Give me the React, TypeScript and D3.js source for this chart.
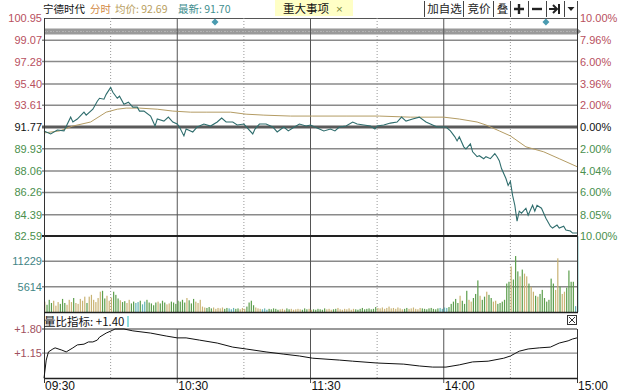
import React from 'react';
import * as d3 from 'd3';

const W = 640;
const H = 392;

// ---------- data ----------
const priceTicks = [100.95, 99.07, 97.28, 95.4, 93.61, 91.77, 89.93, 88.06, 86.26, 84.39, 82.59];
const pctTicks = ['10.00%', '7.96%', '6.00%', '3.96%', '2.00%', '0.00%', '2.00%', '4.04%', '6.00%', '8.05%', '10.00%'];
const volTicks = [11229, 5614];
const ratioTicks = [1.8, 1.15];
const timeLabels = ['09:30', '10:30', '11:30', '14:00', '15:00'];
const timeLabelMin = [0, 60, 120, 180, 240];
const solidMin = [60, 120, 180];
const dottedMin = [30, 90, 150, 210];
const eventMin = [77, 226];

const priceMin = [0, 3, 6, 9, 12, 13, 15, 18, 19, 22, 24, 25, 27, 28, 30, 31, 33, 34, 36, 38, 40, 42, 43, 45, 48, 49, 50, 51, 54, 56, 58, 60, 61, 63, 64, 67, 69, 70, 72, 75, 78, 80, 82, 85, 87, 90, 94, 95, 97, 100, 103, 105, 108, 110, 112, 115, 118, 120, 123, 126, 129, 131, 133, 136, 139, 141, 144, 147, 149, 150, 153, 156, 159, 161, 163, 166, 169, 172, 175, 177, 179, 181, 183, 185, 186, 187, 189, 190, 192, 193, 195, 196, 198, 199, 201, 203, 204, 205, 206, 208, 209, 210, 211, 212, 213, 214, 215, 217, 218, 220, 221, 222, 224, 226, 228, 229, 231, 232, 234, 235, 237, 238, 240];
const priceVal = [91.44, 91.19, 91.52, 91.44, 92.6, 92.19, 92.44, 93.02, 92.77, 93.27, 93.94, 94.19, 94.11, 94.52, 95.11, 94.69, 94.19, 94.36, 93.69, 93.86, 93.44, 93.44, 93.11, 93.11, 92.69, 92.27, 91.85, 92.44, 92.27, 92.6, 92.19, 92.02, 91.77, 91.02, 91.6, 91.35, 91.77, 91.85, 92.02, 91.85, 92.19, 92.52, 92.19, 92.19, 91.94, 92.02, 91.19, 91.6, 92.02, 92.02, 91.77, 91.35, 91.77, 91.44, 91.69, 92.02, 91.85, 91.94, 91.69, 91.44, 91.6, 91.44, 91.77, 91.85, 92.19, 92.02, 91.94, 91.85, 91.6, 91.85, 91.94, 92.1, 92.19, 92.6, 92.27, 92.44, 92.6, 92.19, 91.94, 91.77, 91.77, 91.77, 91.44, 90.94, 90.6, 90.94, 90.1, 89.93, 90.35, 89.68, 89.27, 89.35, 89.1, 89.27, 89.1, 89.52, 89.27, 88.93, 88.27, 87.43, 86.85, 87.18, 86.01, 85.18, 83.84, 84.68, 84.51, 84.93, 84.34, 85.18, 84.68, 85.18, 84.93, 84.09, 83.42, 83.26, 83.51, 83.26, 83.42, 83.09, 83.01, 82.84, 82.84];

const avgMin = [0, 7, 13, 21, 28, 33, 37, 43, 51, 58, 66, 73, 84, 91, 99, 111, 121, 136, 151, 165, 180, 187, 195, 199, 205, 210, 217, 225, 232, 240];
const avgVal = [91.27, 91.44, 91.85, 92.19, 93.02, 93.27, 93.36, 93.36, 93.27, 93.11, 93.02, 93.02, 93.02, 92.85, 92.77, 92.69, 92.69, 92.69, 92.69, 92.6, 92.6, 92.44, 92.19, 91.94, 91.44, 91.02, 90.1, 89.68, 89.1, 88.43];

const volume = [
  2300, 1600, 2700, 2000, 2500, 1400, 2200, 1800, 2900, 2000,
  1600, 2700, 2200, 3100, 2000, 1800, 2900, 2500, 3400, 2000,
  3400, 3800, 2700, 2200, 3100, 4500, 4700, 3000, 3600, 2500,
  3200, 4500, 3800, 3000, 2600, 2200, 2400, 2000, 2700, 1900,
  2300, 2000, 2200, 2500, 1700, 2300, 2700, 2100, 1900, 1500,
  2100, 2300, 1900, 2500, 2100, 1700, 1900, 2300, 2100, 1800,
  2500, 2300, 2700, 2100, 3100, 2600, 1900, 2900, 2300, 2000,
  2700, 1200, 1000, 900, 1100, 800, 1000, 700, 900, 800,
  1000, 700, 900, 800, 600, 900, 700, 800, 600, 900,
  700, 1200, 2100, 2500, 1500, 1000, 800, 700, 600, 800,
  500, 700, 600, 800, 700, 500, 600, 700, 500, 800,
  600, 700, 500, 600, 700, 600, 500, 800, 600, 700,
  500, 600, 500, 700, 600, 500, 800, 600, 700, 500,
  600, 700, 900, 600, 500, 700, 600, 800, 500, 700,
  600, 500, 700, 900, 600, 700, 800, 600, 700, 1100,
  900, 800, 1000, 700, 900, 1200, 800, 900, 700, 1000,
  800, 600, 700, 900, 700, 800, 1000, 700, 600, 900,
  800, 700, 600, 800, 900, 700, 600, 800, 900, 700,
  1000, 900, 1100, 1800, 2300, 2900, 2000, 3600, 2500, 1800,
  4700, 2700, 2300, 3100, 4000, 7000, 3600, 2700, 3400, 4500,
  3800, 3100, 2300, 2500, 1800, 2000, 2300, 2700, 6300, 6700,
  10100, 7200, 12400, 9000, 7900, 9400, 8500, 7900, 6300, 5600,
  4500, 3600, 3400, 4000, 4900, 3100, 2300, 2700, 7400, 6300,
  4900, 11900, 5600, 4000, 4500, 5400, 9200, 6700, 6700, 1300,
  16800,
];

const ratioMin = [0, 1, 2, 4, 5, 8, 10, 13, 15, 18, 20, 22, 24, 25, 28, 31, 32, 36, 40, 48, 55, 60, 64, 70, 78, 85, 91, 100, 108, 115, 121, 133, 139, 150, 162, 169, 175, 181, 187, 193, 200, 207, 210, 214, 218, 223, 228, 232, 236, 238, 240];
const ratioVal = [0.47, 0.96, 1.18, 1.26, 1.29, 1.23, 1.18, 1.29, 1.37, 1.39, 1.45, 1.45, 1.5, 1.58, 1.69, 1.77, 1.8, 1.8, 1.75, 1.69, 1.61, 1.56, 1.56, 1.5, 1.42, 1.31, 1.26, 1.18, 1.12, 1.07, 1.01, 0.96, 0.93, 0.88, 0.85, 0.8, 0.77, 0.77, 0.83, 0.91, 0.93, 1.01, 1.07, 1.2, 1.26, 1.29, 1.31, 1.42, 1.48, 1.53, 1.56];

// ---------- layout ----------
const L = 44;
const R = 577;
const FONT = '"Liberation Sans", Arial, "Noto Sans CJK SC", sans-serif';
const CJK = '"Noto Sans CJK SC", "Liberation Sans", sans-serif';
const RED = '#b8505e';
const GREEN = '#4a8f4c';
const GRID = '#8a8a8a';

export default function App() {
  const x = d3.scaleLinear().domain([0, 240]).range([L, R]);
  const yP = d3.scaleLinear().domain([82.59, 100.95]).range([236, 18]);
  const yV = d3.scaleLinear().domain([0, 16843]).range([312, 236]);
  const yR = d3.scaleLinear().domain([0.475, 1.8]).range([378, 329]);

  const priceAt = d3.scaleLinear().domain(priceMin).range(priceVal);

  const priceLine = d3.line<number>().x((_, i) => x(priceMin[i])).y((d) => yP(d))(priceVal) || '';
  const avgLine = d3.line<number>().x((_, i) => x(avgMin[i])).y((d) => yP(d))(avgVal) || '';
  const ratioLine = d3.line<number>().x((_, i) => x(ratioMin[i])).y((d) => yR(d))(ratioVal) || '';

  const volColor = (i: number) => {
    if (i === 0) return '#c8b274';
    const d = priceAt(i) - priceAt(i - 1);
    if (Math.abs(d) < 0.005) return '#62b4b4';
    return d > 0 ? '#c9b373' : '#5c9e4c';
  };

  const tickColor = (i: number) => (i < 5 ? RED : i === 5 ? '#111' : GREEN);

  const buttons = [
    { x0: 424, x1: 463, label: '加自选' },
    { x0: 463, x1: 493, label: '竞价' },
    { x0: 493, x1: 510, label: '叠' },
    { x0: 510, x1: 528, label: '' },
    { x0: 528, x1: 546, label: '' },
    { x0: 546, x1: 564, label: '' },
    { x0: 564, x1: 577, label: '' },
  ];

  return (
    <svg width={W} height={H} style={{ position: 'absolute', left: 0, top: 0, background: '#fff' }} fontFamily={FONT}>
      <rect x={0} y={0} width={W} height={H} fill="#fff" />

      {/* header */}
      <text x={43} y={13} fontSize={10.5} fontFamily={CJK} fill="#111">宁德时代</text>
      <text x={90} y={13} fontSize={10.5} fontFamily={CJK} fill="#d28a44">分时</text>
      <text x={115} y={13} fontSize={10.5} fontFamily={CJK} fill="#b9a062">均价: 92.69</text>
      <text x={178} y={13} fontSize={10.5} fontFamily={CJK} fill="#3f8f8f">最新: 91.70</text>
      <rect x={275} y={0} width={78} height={16} fill="#ffffc6" />
      <text x={283} y={12.5} fontSize={11.5} fontFamily={CJK} fill="#111">重大事项</text>
      <text x={336} y={12.5} fontSize={11.5} fill="#7a8a40">×</text>
      {buttons.map((b, i) => (
        <g key={i}>
          <line x1={b.x0 + 0.5} x2={b.x0 + 0.5} y1={1} y2={17} stroke="#444" />
          {b.label && (
            <text x={(b.x0 + b.x1) / 2 + 1} y={13} fontSize={11.5} fontFamily={CJK} fill="#222" textAnchor="middle">{b.label}</text>
          )}
        </g>
      ))}
      <line x1={R + 0.5} x2={R + 0.5} y1={1} y2={18} stroke="#444" />
      <path d="M519,4 V14 M514,9 H524" stroke="#222" strokeWidth={2.4} />
      <path d="M532,9 H542" stroke="#222" strokeWidth={2.4} />
      <path d="M549,9 H556 M553,5 L557,9 L553,13" stroke="#222" strokeWidth={2} fill="none" />
      <path d="M559,4 V14" stroke="#222" strokeWidth={2} />
      <path d="M567.5,7 H574.5 L571,11 Z" fill="#222" />

      {/* top border */}
      <line x1={L} x2={R} y1={18.5} y2={18.5} stroke="#555" />

      {/* event diamonds */}
      {eventMin.map((m, i) => (
        <path key={i} d={`M${x(m)},${18.5} l3.5,3.5 l-3.5,3.5 l-3.5,-3.5 Z`} fill="#4a9bb0" />
      ))}

      {/* gray slider band */}
      <rect x={L} y={28.5} width={R - L} height={6} fill="#9a9a9a" />
      <line x1={L} x2={R} y1={31.5} y2={31.5} stroke="#b4b4b4" strokeDasharray="2,1,1,2" />
      <path d={`M${R},28 l4,3.5 l-4,3.5 Z`} fill="#888" />

      {/* price gridlines */}
      {priceTicks.map((t, i) =>
        i === 0 || i === 5 || i === 10 ? null : (
          <line key={i} x1={L - 2} x2={R} y1={yP(t)} y2={yP(t)} stroke={GRID} strokeWidth={1.5} />
        )
      )}

      {/* volume gridlines */}
      {volTicks.map((t, i) => (
        <line key={i} x1={L - 2} x2={R} y1={yV(t)} y2={yV(t)} stroke={GRID} strokeWidth={1.5} />
      ))}

      {/* ratio gridlines */}
      {ratioTicks.map((t, i) => (
        <line key={i} x1={L - 2} x2={R} y1={yR(t)} y2={yR(t)} stroke={i === 0 ? '#777' : GRID} strokeWidth={1.3} />
      ))}

      {/* verticals */}
      {solidMin.map((m, i) => (
        <g key={i}>
          <line x1={x(m)} x2={x(m)} y1={18} y2={313} stroke="#555" />
          <line x1={x(m)} x2={x(m)} y1={329} y2={383} stroke="#555" />
        </g>
      ))}
      {dottedMin.map((m, i) => (
        <g key={i}>
          <line x1={x(m)} x2={x(m)} y1={18} y2={313} stroke="#999" strokeDasharray="1,2" />
          <line x1={x(m)} x2={x(m)} y1={329} y2={378} stroke="#999" strokeDasharray="1,2" />
        </g>
      ))}

      {/* volume bars */}
      {volume.map((v, i) => (
        <rect key={i} x={x(i) + 0.2} y={yV(v)} width={1.2} height={312 - yV(v)} fill={volColor(i)} />
      ))}

      {/* zero line and limit line */}
      <line x1={L - 2} x2={R} y1={yP(91.77)} y2={yP(91.77)} stroke="#5a5a5a" strokeWidth={3} />
      <line x1={L - 2} x2={R} y1={yP(82.59)} y2={yP(82.59)} stroke="#222" strokeWidth={2} />

      {/* avg & price */}
      <path d={avgLine} fill="none" stroke="#b49c64" strokeWidth={1} />
      <path d={priceLine} fill="none" stroke="#2f6d6d" strokeWidth={1.1} />

      {/* borders */}
      <line x1={L + 0.5} x2={L + 0.5} y1={18} y2={378} stroke="#333" />
      <line x1={R + 0.5} x2={R + 0.5} y1={18} y2={313} stroke="#333" />
      <line x1={R + 0.5} x2={R + 0.5} y1={329} y2={383} stroke="#333" />
      <line x1={L} x2={R + 1} y1={312.5} y2={312.5} stroke="#222" strokeWidth={1.5} />
      <line x1={L} x2={R + 1} y1={378.5} y2={378.5} stroke="#222" strokeWidth={1.5} />
      <line x1={L + 0.5} x2={L + 0.5} y1={378} y2={383} stroke="#333" />

      {/* ratio line */}
      <path d={ratioLine} fill="none" stroke="#111" strokeWidth={1} />

      {/* indicator header */}
      <text x={44} y={326} fontSize={11.5} fontFamily={CJK} fill="#111">量比指标: +1.40</text>
      <rect x={127} y={316} width={2} height={11} fill="#8fe0e0" />
      <rect x={567.5} y={315.5} width={9} height={9} fill="#fff" stroke="#333" />
      <path d="M569,317 L575,323 M575,317 L569,323" stroke="#333" />

      {/* left price labels */}
      {priceTicks.map((t, i) => (
        <text key={i} x={42} y={yP(t)} dy="0.36em" fontSize={11} textAnchor="end" fill={tickColor(i)}>
          {t.toFixed(2)}
        </text>
      ))}
      {/* right pct labels */}
      {pctTicks.map((t, i) => (
        <text key={i} x={580} y={yP(priceTicks[i])} dy="0.36em" fontSize={11} fill={tickColor(i)}>
          {t}
        </text>
      ))}
      {/* volume labels */}
      {volTicks.map((t, i) => (
        <text key={i} x={42} y={yV(t)} dy="0.36em" fontSize={11} textAnchor="end" fill="#3f8585">
          {t}
        </text>
      ))}
      {/* ratio labels */}
      {ratioTicks.map((t, i) => (
        <text key={i} x={42} y={yR(t)} dy="0.36em" fontSize={11} textAnchor="end" fill="#a0505e">
          {'+' + t.toFixed(2)}
        </text>
      ))}
      {/* time labels */}
      {timeLabels.map((t, i) => (
        <text key={i} x={x(timeLabelMin[i]) + 1} y={390} fontSize={12} fill="#111">
          {t}
        </text>
      ))}
    </svg>
  );
}
